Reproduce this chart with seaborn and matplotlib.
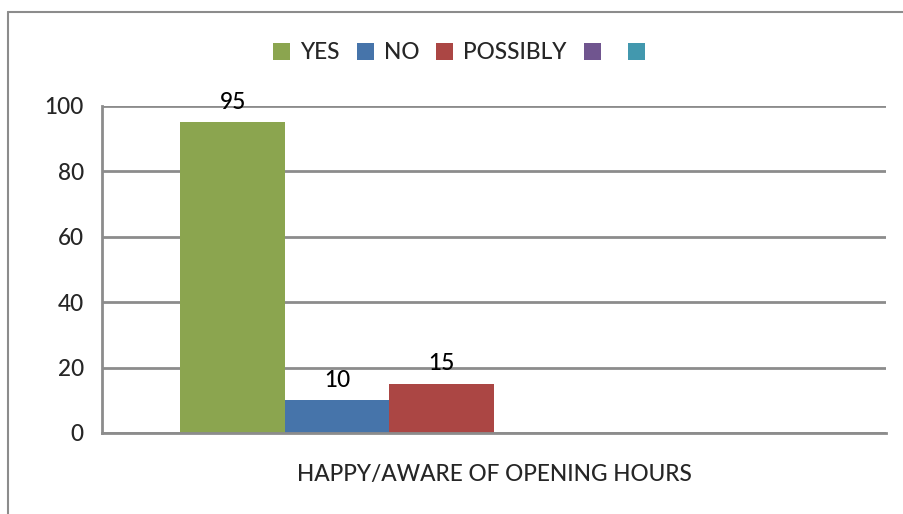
import pandas as pd
import matplotlib.pyplot as plt
import seaborn as sns
from matplotlib.patches import Patch
from matplotlib.lines import Line2D

# Datos
category = "HAPPY/AWARE OF OPENING HOURS"
series = ["YES", "NO", "POSSIBLY", "S4", "S5", "S6"]
legend_labels = ["YES", "NO", "POSSIBLY", "", ""]
values = [95, 10, 15]
colors = ["#8BA54F", "#4674AA", "#AB4644", "#70558F", "#4298AE", "#D9853B"]
yticks = [0, 20, 40, 60, 80, 100]

df = pd.DataFrame({
    "Category": [category] * len(values),
    "Series": series[:len(values)],
    "Value": values,
})

sns.set_theme(style="white")
plt.rcParams["font.family"] = ["Lato", "DejaVu Sans"]
plt.rcParams["font.weight"] = "medium"
fs = 16.3

fig = plt.figure(figsize=(9.04, 5.14), dpi=100)
ax = fig.add_axes([0.1128, 0.1576, 0.980 - 0.1128, 0.7938 - 0.1576])

sns.barplot(data=df, x="Category", y="Value", hue="Series", hue_order=series,
            palette=dict(zip(series, colors)), width=0.8, saturation=1,
            legend=False, linewidth=0, edgecolor="none", ax=ax)

for cont in ax.containers:
    ax.bar_label(cont, fontsize=fs, padding=7, color="black")

grid_color = "#8C8C8C"
ax.set_ylim(0, 100)
ax.set_xlim(-0.5, 0.5)
ax.set_yticks(yticks)
ax.yaxis.grid(True, color=grid_color, linewidth=2)
ax.set_axisbelow(True)
ax.tick_params(axis="y", length=7, width=2, color=grid_color, labelsize=fs, pad=6)
ax.tick_params(axis="x", which="major", length=0, labelsize=fs, pad=22)
ax.set_xticks([-0.5, 0.5], minor=True)
ax.tick_params(axis="x", which="minor", length=5, width=2, color=grid_color)
ax.set_xlabel("")
ax.set_ylabel("")
for side in ["top", "right"]:
    ax.spines[side].set_visible(False)
for side in ["left", "bottom"]:
    ax.spines[side].set_color(grid_color)
    ax.spines[side].set_linewidth(2)

handles = [Patch(facecolor=c, edgecolor="none") for c in colors[:5]]
fig.legend(handles, legend_labels, loc="center left", bbox_to_anchor=(0.302, 0.897),
           ncol=5, frameon=False, fontsize=fs, handlelength=0.75,
           handleheight=0.75, handletextpad=0.45, columnspacing=0.75,
           borderpad=0, borderaxespad=0)

# Marco del gráfico
fig.add_artist(Line2D([0.0088, 0.0088], [0, 0.9767], color="#8C8C8C", lw=1.5))
fig.add_artist(Line2D([0.0088, 1], [0.9767, 0.9767], color="#8C8C8C", lw=1.5))

fig.savefig("out.png", dpi=100)
